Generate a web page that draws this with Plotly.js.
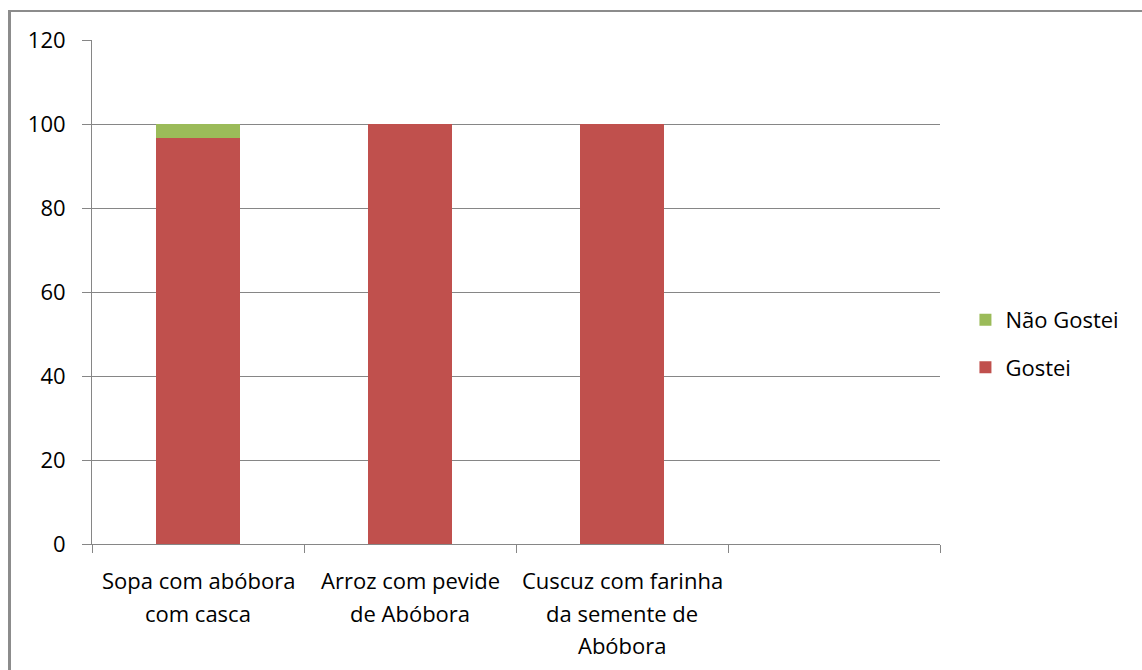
<!DOCTYPE html>
<html>
<head>
<meta charset="utf-8">
<script src="https://cdn.plot.ly/plotly-3.0.1.min.js"></script>
<style>
  html, body { margin: 0; padding: 0; background: #fff; }
  #wrap { position: relative; width: 1142px; height: 670px; overflow: hidden; }
  #chart { position: absolute; left: 0; top: 0; width: 1142px; height: 670px; }
  #frame { position: absolute; left: 8px; top: 10px; width: 1200px; height: 700px;
           border-left: 3px solid #8c8c8c; border-top: 2px solid #8c8c8c; pointer-events: none; }
</style>
</head>
<body>
<div id="wrap">
  <div id="chart"></div>
  <div id="frame"></div>
</div>
<script>
// Data
const categories = ["Sopa com abóbora com casca", "Arroz com pevide de Abóbora", "Cuscuz com farinha da semente de Abóbora", ""];
const categoryLines = [
  ["Sopa com abóbora", "com casca"],
  ["Arroz com pevide", "de Abóbora"],
  ["Cuscuz com farinha", "da semente de", "Abóbora"],
  []
];
const gostei = [96.7, 100, 100, null];
const naoGostei = [3.3, 0, 0, null];
const yTicks = [0, 20, 40, 60, 80, 100, 120];

const FONT = "Open Sans, Lato, sans-serif";
const FS = 22;
const xIdx = categories.map((c, i) => i);

const traces = [
  { type: "bar", name: "Gostei", x: xIdx, y: gostei, marker: { color: "#C0504D" },
    width: 0.4, legendgroup: "g1", legendrank: 2, hoverinfo: "skip" },
  { type: "bar", name: "Não Gostei", x: xIdx, y: naoGostei, marker: { color: "#9BBB59" },
    width: 0.4, legendgroup: "g2", legendrank: 1, hoverinfo: "skip" }
];

const annotations = [];
categoryLines.forEach((lines, i) => {
  lines.forEach((ln, k) => {
    annotations.push({
      x: i, xref: "x", y: 0, yref: "paper", yanchor: "middle", xanchor: "center",
      yshift: -(36 + k * 32.5), text: ln, showarrow: false,
      font: { family: FONT, size: FS, color: "#000" }
    });
  });
});

const layout = {
  width: 1142, height: 670,
  margin: { l: 92, r: 202, t: 40, b: 126 },
  paper_bgcolor: "rgba(0,0,0,0)", plot_bgcolor: "#fff",
  barmode: "stack",
  showlegend: true,
  font: { family: FONT, size: FS, color: "#000" },
  xaxis: {
    range: [-0.5, categories.length - 0.5],
    tickvals: xIdx, ticktext: categories.map(() => ""), ticks: "",
    showgrid: false, zeroline: false,
    showline: true, linecolor: "#868686", linewidth: 1,
    minor: { tick0: -0.5, dtick: 1, ticks: "outside", ticklen: 8, tickcolor: "#868686", tickwidth: 1, showgrid: false }
  },
  yaxis: {
    range: [0, 120], tickvals: yTicks, ticktext: yTicks.map(String),
    ticks: "outside", ticklen: 9, tickcolor: "#868686",
    showgrid: true, gridcolor: "#868686", gridwidth: 1,
    zeroline: false, showline: true, linecolor: "#868686", linewidth: 1,
    tickfont: { family: FONT, size: FS, color: "#000" },
    ticklabelstandoff: 12
  },
  legend: {
    x: 1.03, xanchor: "left", y: 0.397, yanchor: "middle",
    traceorder: "grouped", tracegroupgap: 16,
    font: { family: FONT, size: FS, color: "#000" },
    bgcolor: "rgba(0,0,0,0)"
  },
  annotations: annotations
};

Plotly.newPlot("chart", traces, layout, { displayModeBar: false, staticPlot: true });
</script>
</body>
</html>
